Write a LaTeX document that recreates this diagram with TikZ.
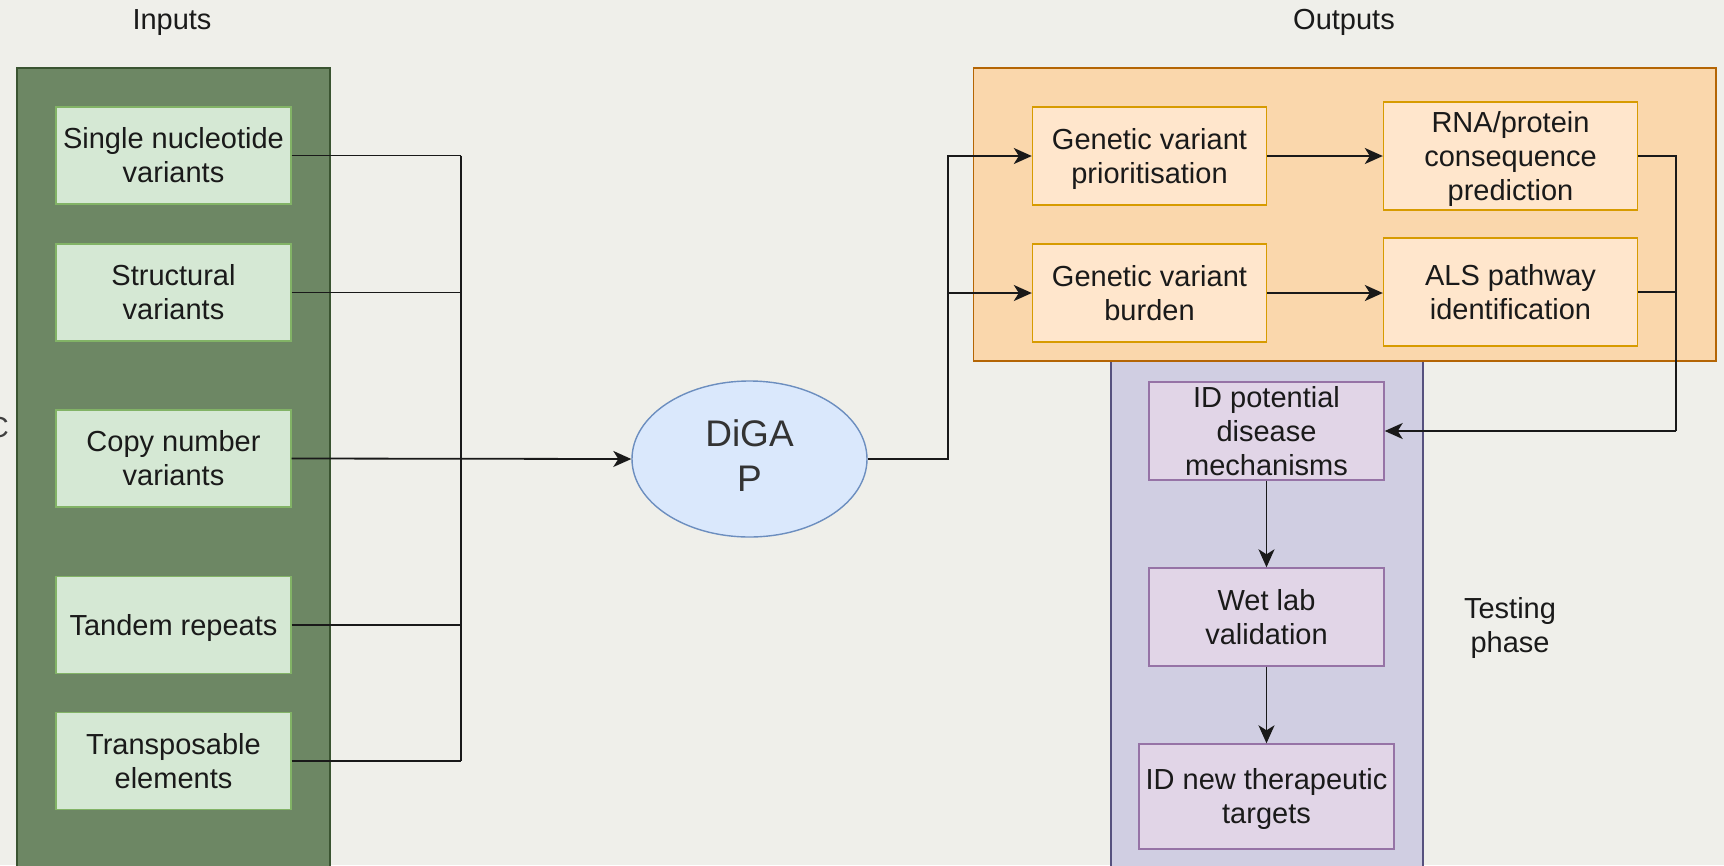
\documentclass[tikz,border=0pt]{standalone}
\usepackage{fontspec}
\setmainfont{Liberation Sans}
\usetikzlibrary{arrows.meta,shapes.geometric}

\definecolor{bgc}{HTML}{EFEFEA}
\definecolor{grpgreenF}{HTML}{6D8764}
\definecolor{grpgreenD}{HTML}{3A5431}
\definecolor{boxgreenF}{HTML}{D5E8D4}
\definecolor{boxgreenD}{HTML}{82B366}
\definecolor{grporangeF}{HTML}{FAD7AC}
\definecolor{grporangeD}{HTML}{B46504}
\definecolor{boxorangeF}{HTML}{FFE6CC}
\definecolor{boxorangeD}{HTML}{D79B00}
\definecolor{grppurpleF}{HTML}{D0CEE2}
\definecolor{grppurpleD}{HTML}{56517E}
\definecolor{boxpurpleF}{HTML}{E1D5E7}
\definecolor{boxpurpleD}{HTML}{9673A6}
\definecolor{procF}{HTML}{DAE8FC}
\definecolor{procD}{HTML}{6C8EBF}
\definecolor{inkc}{HTML}{1A1A1A}

\begin{document}
\begin{tikzpicture}[x=1pt,y=-1pt,
  % fixed text depth keeps labels centred on their lines, descenders or not
  txt/.style={font=\fontsize{29}{34}\selectfont, text=inkc, align=center, inner sep=0pt,
              text depth=1pt},
  group/.style={rectangle, line width=1.8pt, inner sep=0pt},
  box/.style={txt, rectangle, draw, line width=1.4pt},
  inbox/.style={box, fill=boxgreenF, draw=boxgreenD, minimum width=235pt, minimum height=97pt},
  outbox/.style={box, fill=boxorangeF, draw=boxorangeD},
  testbox/.style={box, fill=boxpurpleF, draw=boxpurpleD},
  conn/.style={draw=black!90, line width=1.8pt},
  arr/.style={conn, -{Stealth[length=18pt, width=16pt, inset=5pt]}},
]
\useasboundingbox (0,0) rectangle (1724,865);
\fill[bgc] (0,0) rectangle (1724,865);

% group containers
\node[group, fill=grpgreenF, draw=grpgreenD, minimum width=313pt, minimum height=840pt] (ingrp) at (173.5,488) {};
\node[group, fill=grppurpleF, draw=grppurpleD, minimum width=312pt, minimum height=560pt] (testgrp) at (1267,630) {};
\node[group, fill=grporangeF, draw=grporangeD, minimum width=742.5pt, minimum height=293pt] (outgrp) at (1344.75,214.5) {};

% headings
\node[txt] (inlbl) at (172,20) {Inputs};
\node[txt] (outlbl) at (1344,20) {Outputs};
\node[txt] (testlbl) at (1510,625) {Testing\\phase};
\node[txt, text=black!75, anchor=base east] (edge) at (9,437) {C};

% input data types
\node[inbox] (in1) at (173.5,155.5) {Single nucleotide\\variants};
\node[inbox] (in2) at (173.5,292.5) {Structural\\variants};
\node[inbox] (in3) at (173.5,458.5) {Copy number\\variants};
\node[inbox] (in4) at (173.5,625) {Tandem repeats};
\node[inbox] (in5) at (173.5,761) {Transposable\\elements};

% pipeline
\node[ellipse, draw=procD, fill=procF, line width=1.4pt, minimum width=235pt, minimum height=156pt,
      inner sep=0pt] (digap) at (749.5,459) {};
\node[align=center, inner sep=0pt, text=black!80, font=\fontsize{37}{45}\selectfont] (digaptxt) at (749.5,456) {DiGA\\P};

% outputs
\node[outbox, minimum width=234pt, minimum height=98pt] (gvp) at (1149.5,156) {Genetic variant\\prioritisation};
\node[outbox, minimum width=254pt, minimum height=108pt] (rna) at (1510.5,156) {RNA/protein\\consequence\\prediction};
\node[outbox, minimum width=234pt, minimum height=98pt] (gvb) at (1149.5,293) {Genetic variant\\burden};
\node[outbox, minimum width=254pt, minimum height=108pt] (als) at (1510.5,292) {ALS pathway\\identification};

% testing phase
\node[testbox, minimum width=235pt, minimum height=98pt] (idp) at (1266.5,431) {ID potential\\disease\\mechanisms};
\node[testbox, minimum width=235pt, minimum height=98pt] (wet) at (1266.5,617) {Wet lab\\validation};
\node[testbox, minimum width=255pt, minimum height=105pt] (idn) at (1266.5,796.5) {ID new therapeutic\\targets};

% junction columns
\coordinate (jL) at (461,0);
\coordinate (jM) at (948,0);
\coordinate (jR) at (1676,0);

% inputs merge into the pipeline
\foreach \n in {in1,in2,in4,in5}
  \draw[conn] (\n.east) -- (\n.east -| jL);
\draw[conn] (in1.east -| jL) -- (in5.east -| jL);
\draw[arr] (in3.east) -- (digap.west);

% pipeline splits into the analyses
\draw[arr] (digap.east) -- (digap.east -| jM) -- (jM |- gvp.west) -- (gvp.west);
\draw[arr] (jM |- gvb.west) -- (gvb.west);
\draw[arr] (gvp.east) -- (rna.west |- gvp.east);
\draw[arr] (gvb.east) -- (als.west |- gvb.east);

% analyses feed the testing phase
\draw[conn] (rna.east) -- (rna.east -| jR) -- (jR |- idp.east);
\draw[conn] (als.east) -- (als.east -| jR);
\draw[arr] (jR |- idp.east) -- (idp.east);
\draw[arr] (idp.south) -- (wet.north);
\draw[arr] (wet.south) -- (idn.north);
\end{tikzpicture}
\end{document}
